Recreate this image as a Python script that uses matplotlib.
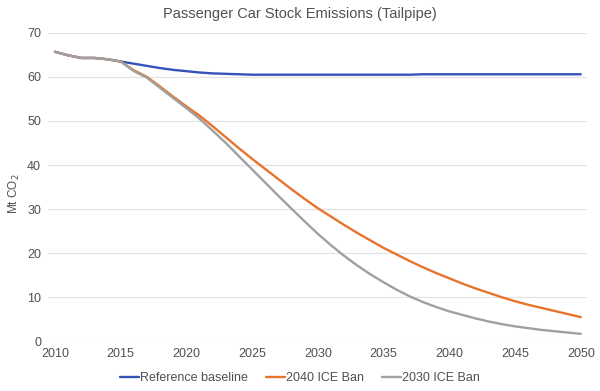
import numpy as np
import matplotlib
matplotlib.use('Agg')
import matplotlib.pyplot as plt

plt.rcParams['font.family'] = ['Liberation Sans', 'DejaVu Sans']

years = list(range(2010, 2051))

# shared history 2010-2015
history = [65.7, 64.9, 64.3, 64.3, 64.0, 63.5]

reference_baseline = history + [63.0, 62.5, 62.0, 61.6, 61.3, 61.0, 60.8, 60.7, 60.6,
                                60.5, 60.5, 60.5, 60.5, 60.5, 60.5, 60.5, 60.5, 60.5,
                                60.5, 60.5, 60.5, 60.5, 60.6, 60.6, 60.6, 60.6, 60.6,
                                60.6, 60.6, 60.6, 60.6, 60.6, 60.6, 60.6, 60.6]

ban_2040 = history + [61.5, 60.0, 57.8, 55.5, 53.3, 51.2, 48.8, 46.3, 43.8, 41.4,
                      39.1, 36.8, 34.5, 32.3, 30.2, 28.3, 26.4, 24.6, 22.9, 21.2,
                      19.7, 18.2, 16.8, 15.5, 14.3, 13.1, 12.0, 11.0, 10.0, 9.1,
                      8.3, 7.6, 6.9, 6.2, 5.5]

ban_2030 = history + [61.3, 59.8, 57.5, 55.2, 52.9, 50.5, 47.8, 45.0, 42.0, 39.0,
                      36.0, 33.0, 30.1, 27.2, 24.4, 21.8, 19.4, 17.2, 15.2, 13.4,
                      11.7, 10.2, 8.9, 7.8, 6.8, 6.0, 5.2, 4.5, 3.9, 3.4,
                      3.0, 2.6, 2.3, 2.0, 1.7]

series_names = ['Reference baseline', '2040 ICE Ban', '2030 ICE Ban']
series_colors = ['#3553B8', '#E8732C', '#A0A0A0']

x_ticks = list(range(2010, 2051, 5))
y_ticks = list(range(0, 71, 10))

text_col = '#505050'

fig = plt.figure(figsize=(6, 3.91), dpi=100)
ax = fig.add_axes([0.08, 0.127, 0.898, 0.789])

for vals, name, col in zip([reference_baseline, ban_2040, ban_2030], series_names, series_colors):
    ax.plot(years, vals, color=col, lw=1.7, label=name, solid_capstyle='round')

ax.set_xlim(2009.47, 2050.46)
ax.set_ylim(0, 70)
ax.set_xticks(x_ticks)
ax.set_yticks(y_ticks)
ax.grid(axis='y', color='#E3E3E3', lw=0.9)
ax.set_axisbelow(True)
for s in ax.spines.values():
    s.set_visible(False)
ax.tick_params(length=0, labelsize=9, labelcolor=text_col, pad=5)
ax.tick_params(axis='x', pad=5)

ax.set_ylabel('Mt CO$_2$', fontsize=8.5, color=text_col)
ax.yaxis.set_label_coords(-0.048, 0.48)
fig.text(0.5, 0.963, 'Passenger Car Stock Emissions (Tailpipe)', ha='center', va='center',
         fontsize=10.5, color=text_col)

leg = fig.legend(loc='center', bbox_to_anchor=(0.5, 0.033), ncol=3, frameon=False,
                 fontsize=9, handlelength=1.5, handletextpad=0.05, columnspacing=1.5)
for t in leg.get_texts():
    t.set_color(text_col)

fig.savefig('out.png', dpi=100)
